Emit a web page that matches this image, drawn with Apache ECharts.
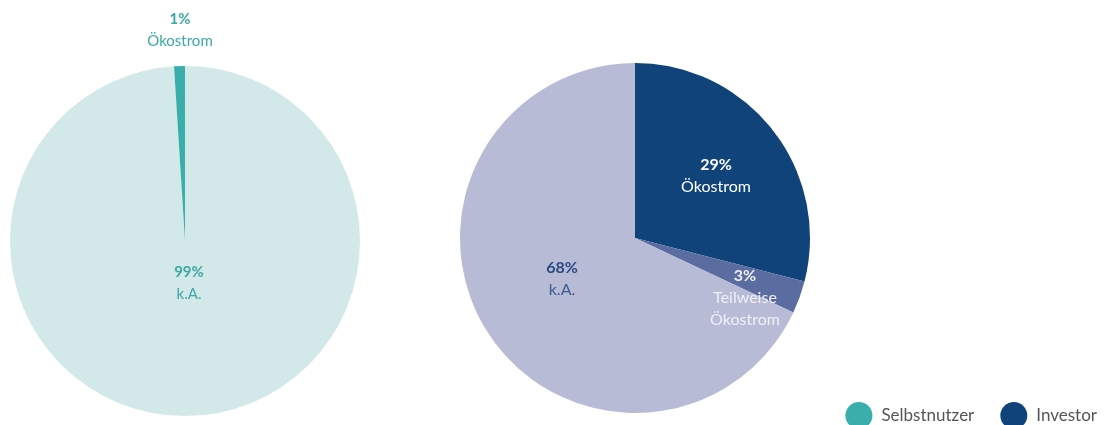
<!DOCTYPE html>
<html>
<head>
<meta charset="utf-8">
<style>
  html, body { margin: 0; padding: 0; background: #ffffff; }
  #chart { width: 1108px; height: 425px; }
</style>
<script src="https://cdn.jsdelivr.net/npm/echarts@6/dist/echarts.min.js"></script>
</head>
<body>
<div id="chart"></div>
<script>
// Data: share of electricity contracts by type, per owner group (percent)
const groups = ['Selbstnutzer', 'Investor'];

const selbstCategories = ['k.A.', 'Ökostrom'];
const selbstValues = [99, 1];

const investorCategories = ['Ökostrom', 'Teilweise\nÖkostrom', 'k.A.'];
const investorValues = [29, 3, 68];

// Colours
const groupColors = ['#3aaeaa', '#0f4379'];
const selbstColors = ['#d3e8e9', '#3aaeaa'];
const investorColors = ['#0f4379', '#5b6ca1', '#b8bbd6'];
const selbstLabelColors = ['#3ea8a5', '#3ea8a5'];
const investorLabelColors = ['#ffffff', '#eef0f7', '#2a4a80'];
const investorNameColors = ['#ffffff', '#eef0f7', '#3d5b8e'];

// Label anchor points (centre of each label block, in px)
const selbstLabelPos = [[189, 283], [180, 30]];
const investorLabelPos = [[716, 176], [745, 298], [562, 279]];

const FONT = 'Lato, "Open Sans", sans-serif';

function buildData(cats, vals, colors, pctColors, nameColors, fontSize) {
  return cats.map((name, i) => ({
    name: name,
    value: vals[i],
    itemStyle: { color: colors[i] },
    label: {
      rich: {
        p: { fontFamily: FONT, fontWeight: 'bold', fontSize: fontSize, color: pctColors[i], lineHeight: 22 },
        n: { fontFamily: FONT, fontSize: fontSize, color: nameColors[i], lineHeight: 22 }
      }
    }
  }));
}

function layoutFrom(positions) {
  return function (params) {
    const p = positions[params.dataIndex];
    return { x: p[0], y: p[1], align: 'center', verticalAlign: 'middle' };
  };
}

const chart = echarts.init(document.getElementById('chart'), null, { renderer: 'canvas' });

chart.setOption({
  backgroundColor: '#ffffff',
  animation: false,
  legend: {
    data: groups.map((g, i) => ({ name: g, itemStyle: { color: groupColors[i] } })),
    icon: 'circle',
    itemWidth: 27,
    itemHeight: 27,
    itemGap: 26,
    right: 6,
    top: 397,
    selectedMode: false,
    textStyle: { fontFamily: FONT, fontSize: 17, color: '#555555', padding: [0, 0, 0, 4] }
  },
  series: [
    {
      name: groups[0],
      type: 'pie',
      center: [185, 241],
      radius: 175,
      startAngle: 90,
      clockwise: true,
      itemStyle: { color: groupColors[0] },
      emphasis: { disabled: true },
      label: {
        show: true,
        position: 'inside',
        formatter: '{p|{c}%}\n{n|{b}}'
      },
      labelLine: { show: false },
      labelLayout: layoutFrom(selbstLabelPos),
      data: buildData(selbstCategories, selbstValues, selbstColors, selbstLabelColors, selbstLabelColors, 15)
    },
    {
      name: groups[1],
      type: 'pie',
      center: [635, 238],
      radius: 175,
      startAngle: 90,
      clockwise: true,
      itemStyle: { color: groupColors[1] },
      emphasis: { disabled: true },
      label: {
        show: true,
        position: 'inside',
        formatter: '{p|{c}%}\n{n|{b}}'
      },
      labelLine: { show: false },
      labelLayout: layoutFrom(investorLabelPos),
      data: buildData(investorCategories, investorValues, investorColors, investorLabelColors, investorNameColors, 16)
    }
  ]
});
</script>
</body>
</html>
